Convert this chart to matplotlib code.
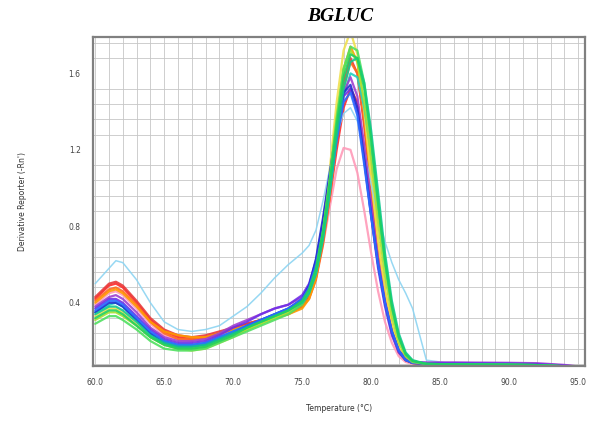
import numpy as np
import matplotlib.pyplot as plt

# temperature grid (deg C) shared by all wells
temp = [60, 61, 61.5, 62, 63, 64, 65, 66, 67, 68, 69, 70, 71, 72, 73, 74, 75,
        75.5, 76, 76.5, 77, 77.5, 78, 78.5, 79, 79.5, 80, 80.5, 81, 81.5, 82,
        82.5, 83, 84, 86, 88, 90, 92, 94, 95]

tail = [0.08, 0.078, 0.077, 0.076, 0.074, 0.068, 0.065]

red = [0.42, 0.49, 0.50, 0.48, 0.40, 0.31, 0.25, 0.22, 0.21, 0.22, 0.24, 0.27, 0.29, 0.31, 0.33, 0.35, 0.39,
       0.44, 0.54, 0.72, 0.95, 1.20, 1.42, 1.52, 1.45, 1.20, 0.90, 0.62, 0.40, 0.24, 0.14,
       0.10, 0.085] + tail
crimson = [0.43, 0.50, 0.51, 0.49, 0.41, 0.32, 0.26, 0.23, 0.22, 0.23, 0.25, 0.27, 0.29, 0.31, 0.33, 0.35, 0.38,
           0.43, 0.53, 0.72, 0.98, 1.28, 1.55, 1.68, 1.60, 1.32, 0.98, 0.66, 0.42, 0.25, 0.15,
           0.10, 0.085] + tail
orange_red = [0.41, 0.47, 0.48, 0.46, 0.39, 0.30, 0.24, 0.21, 0.21, 0.22, 0.24, 0.26, 0.28, 0.30, 0.32, 0.34, 0.38,
              0.42, 0.52, 0.70, 0.95, 1.25, 1.52, 1.66, 1.60, 1.35, 1.00, 0.68, 0.43, 0.26, 0.15,
              0.10, 0.085] + tail
orange = [0.40, 0.46, 0.47, 0.45, 0.38, 0.30, 0.25, 0.23, 0.22, 0.22, 0.24, 0.26, 0.28, 0.30, 0.32, 0.34, 0.37,
          0.42, 0.53, 0.74, 1.02, 1.35, 1.62, 1.74, 1.66, 1.40, 1.05, 0.72, 0.46, 0.28, 0.16,
          0.11, 0.09] + tail
yellow = [0.33, 0.37, 0.37, 0.35, 0.29, 0.22, 0.18, 0.16, 0.15, 0.16, 0.19, 0.22, 0.26, 0.29, 0.32, 0.35, 0.40,
          0.46, 0.58, 0.80, 1.10, 1.45, 1.72, 1.82, 1.70, 1.40, 1.05, 0.72, 0.46, 0.28, 0.16,
          0.11, 0.09] + tail
yellow_green = [0.31, 0.35, 0.35, 0.33, 0.28, 0.22, 0.18, 0.16, 0.16, 0.17, 0.20, 0.23, 0.26, 0.29, 0.32, 0.35, 0.40,
                0.46, 0.57, 0.77, 1.05, 1.38, 1.63, 1.72, 1.66, 1.45, 1.15, 0.82, 0.54, 0.33, 0.19,
                0.12, 0.09] + tail
lime = [0.29, 0.33, 0.33, 0.31, 0.26, 0.20, 0.16, 0.15, 0.15, 0.16, 0.19, 0.22, 0.25, 0.28, 0.31, 0.34, 0.39,
        0.45, 0.56, 0.76, 1.04, 1.36, 1.62, 1.74, 1.72, 1.55, 1.26, 0.93, 0.62, 0.38, 0.22,
        0.13, 0.095] + tail
green = [0.32, 0.36, 0.36, 0.34, 0.28, 0.22, 0.18, 0.16, 0.16, 0.17, 0.20, 0.23, 0.27, 0.30, 0.33, 0.36, 0.41,
         0.47, 0.58, 0.77, 1.03, 1.33, 1.58, 1.70, 1.68, 1.52, 1.25, 0.92, 0.62, 0.38, 0.22,
         0.13, 0.095] + tail
sea_green = [0.34, 0.38, 0.38, 0.36, 0.30, 0.23, 0.19, 0.17, 0.17, 0.18, 0.21, 0.24, 0.27, 0.30, 0.33, 0.36, 0.40,
             0.45, 0.55, 0.73, 0.98, 1.28, 1.52, 1.66, 1.68, 1.55, 1.30, 0.98, 0.66, 0.41, 0.24,
             0.14, 0.10] + tail
turquoise = [0.35, 0.39, 0.40, 0.38, 0.31, 0.24, 0.20, 0.18, 0.18, 0.19, 0.22, 0.25, 0.28, 0.31, 0.34, 0.37, 0.41,
             0.46, 0.56, 0.74, 0.98, 1.26, 1.48, 1.60, 1.58, 1.42, 1.18, 0.88, 0.60, 0.37, 0.22,
             0.13, 0.095] + tail
cyan_outlier = [0.50, 0.58, 0.62, 0.61, 0.52, 0.40, 0.30, 0.26, 0.25, 0.26, 0.28, 0.33, 0.38, 0.45, 0.53, 0.60, 0.66,
                0.70, 0.78, 0.93, 1.10, 1.28, 1.39, 1.42, 1.35, 1.20, 1.02, 0.85, 0.72, 0.61, 0.52,
                0.45, 0.37, 0.10, 0.08, 0.078, 0.077, 0.076, 0.070, 0.066]
blue = [0.36, 0.41, 0.41, 0.39, 0.32, 0.25, 0.20, 0.18, 0.18, 0.19, 0.22, 0.25, 0.28, 0.31, 0.34, 0.37, 0.42,
        0.48, 0.60, 0.78, 1.00, 1.25, 1.45, 1.50, 1.38, 1.12, 0.85, 0.60, 0.40, 0.25, 0.15,
        0.10, 0.085] + tail
dark_blue = [0.35, 0.40, 0.40, 0.38, 0.31, 0.24, 0.19, 0.17, 0.17, 0.18, 0.21, 0.24, 0.28, 0.31, 0.34, 0.37, 0.42,
             0.49, 0.63, 0.84, 1.08, 1.32, 1.50, 1.54, 1.42, 1.15, 0.86, 0.60, 0.40, 0.25, 0.15,
             0.10, 0.085] + tail
violet = [0.37, 0.42, 0.42, 0.40, 0.33, 0.26, 0.21, 0.19, 0.19, 0.20, 0.23, 0.27, 0.30, 0.34, 0.37, 0.39, 0.44,
          0.50, 0.62, 0.82, 1.06, 1.30, 1.48, 1.52, 1.40, 1.14, 0.85, 0.58, 0.38, 0.23, 0.14,
          0.10, 0.09, 0.085, 0.085, 0.084, 0.083, 0.080, 0.072, 0.066]
purple = [0.38, 0.43, 0.44, 0.42, 0.35, 0.27, 0.22, 0.20, 0.20, 0.21, 0.24, 0.28, 0.31, 0.34, 0.37, 0.39, 0.43,
          0.49, 0.60, 0.80, 1.04, 1.30, 1.50, 1.58, 1.48, 1.22, 0.92, 0.63, 0.41, 0.25, 0.15,
          0.11, 0.09, 0.088, 0.088, 0.087, 0.086, 0.084, 0.075, 0.067]
pink = [0.39, 0.45, 0.46, 0.44, 0.37, 0.29, 0.23, 0.21, 0.20, 0.21, 0.23, 0.26, 0.29, 0.31, 0.33, 0.35, 0.39,
        0.44, 0.54, 0.70, 0.90, 1.10, 1.21, 1.20, 1.08, 0.88, 0.66, 0.46, 0.30, 0.19, 0.12,
        0.09, 0.08] + tail

wells = [
    (pink, '#ff9ab8'), (red, '#ff2a2a'), (crimson, '#e83a3a'), (orange_red, '#ff6a20'),
    (orange, '#ff9a00'), (yellow, '#f0e050'), (cyan_outlier, '#8cd4f2'),
    (turquoise, '#20d0c0'), (purple, '#a040d0'), (violet, '#7030e8'),
    (dark_blue, '#2030d0'), (blue, '#2a6cff'), (yellow_green, '#a8e030'),
    (lime, '#50e060'), (sea_green, '#10c890'), (green, '#20d060'),
]

fig = plt.figure(figsize=(5.97, 4.21), dpi=100)
ax = fig.add_axes([0.156, 0.131, 0.824, 0.781])

for vals, col in wells:
    lw = 1.1 if col == '#8cd4f2' else 1.6
    ax.plot(temp, vals, color=col, lw=lw, alpha=0.9, solid_capstyle='round')

ax.set_xlim(59.85, 95.5)
ax.set_ylim(0.07, 1.79)

ax.set_xticks(np.arange(60, 96, 5))
ax.set_xticklabels([f"{t:.1f}" for t in range(60, 96, 5)])
ax.set_yticks([0.4, 0.8, 1.2, 1.6])
ax.set_yticklabels(["0.4", "0.8", "1.2", "1.6"])
ax.set_xticks(np.arange(60, 96, 1), minor=True)
ax.set_yticks(np.arange(0.08, 1.79, 0.08), minor=True)

ax.grid(which='minor', color='#c6c6c6', lw=0.6)
ax.grid(which='major', axis='x', color='#c6c6c6', lw=0.6)
ax.set_axisbelow(True)
ax.tick_params(which='both', length=0, labelsize=5.5, colors='#444444')
ax.tick_params(axis='x', pad=9)
ax.tick_params(axis='y', pad=9)

for s in ax.spines.values():
    s.set_color('#808080')
    s.set_linewidth(1.6)

ax.set_xlabel("Temperature (°C)", fontsize=5.5, color='#333333', labelpad=12)
ax.set_ylabel("Derivative Reporter (-Rn')", fontsize=5.5, color='#333333', labelpad=30)
fig.text(0.57, 0.96, "BGLUC", fontsize=14, family='Liberation Serif',
         weight='bold', style='italic', ha='center', va='center')

fig.savefig("out.png", dpi=100)
